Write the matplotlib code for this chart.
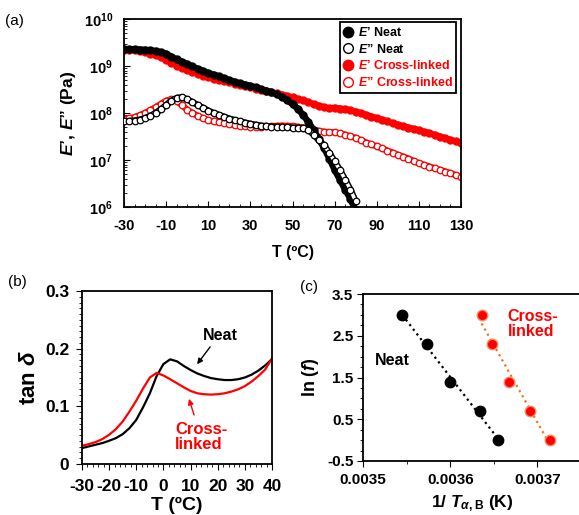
import numpy as np
import matplotlib
matplotlib.use("Agg")
import matplotlib.pyplot as plt
from matplotlib.ticker import MultipleLocator, LogLocator, NullFormatter
from matplotlib.lines import Line2D

plt.rcParams['font.family'] = ['Liberation Sans', 'DejaVu Sans']
plt.rcParams['font.weight'] = 'bold'
plt.rcParams['axes.unicode_minus'] = False
plt.rcParams['mathtext.fontset'] = 'custom'
plt.rcParams['mathtext.rm'] = 'Liberation Sans:bold'
plt.rcParams['mathtext.bf'] = 'Liberation Sans:bold'
plt.rcParams['mathtext.it'] = 'Liberation Sans:italic:bold'

RED = '#ff0000'

# (a) DMA temperature sweep, log10 of modulus (Pa)
T_neat = np.arange(-30, 80.1, 2.5)
logEp_neat = [9.36, 9.36, 9.355, 9.35, 9.345, 9.335, 9.32, 9.295, 9.26, 9.20,
              9.14, 9.09, 9.04, 8.99, 8.94, 8.895, 8.85, 8.815, 8.78, 8.74,
              8.70, 8.665, 8.63, 8.605, 8.58, 8.545, 8.51, 8.475, 8.44, 8.395,
              8.34, 8.27, 8.19, 8.09, 7.96, 7.81, 7.64, 7.45, 7.25, 7.03,
              6.79, 6.58, 6.37, 6.17, 5.93]
logEpp_neat = [7.82, 7.83, 7.84, 7.86, 7.89, 7.94, 8.00, 8.08, 8.17, 8.26,
               8.32, 8.335, 8.29, 8.23, 8.17, 8.11, 8.05, 8.00, 7.96, 7.92,
               7.88, 7.85, 7.82, 7.795, 7.77, 7.75, 7.73, 7.72, 7.71, 7.705,
               7.70, 7.695, 7.69, 7.685, 7.68, 7.64, 7.54, 7.42, 7.31, 7.15,
               6.97, 6.79, 6.58, 6.37, 6.12]

T_cl = np.arange(-30, 130.1, 2.5)
logEp_cl = [9.34, 9.335, 9.33, 9.31, 9.29, 9.265, 9.24, 9.19, 9.13, 9.07,
            9.01, 8.965, 8.92, 8.875, 8.83, 8.795, 8.76, 8.73, 8.70, 8.675,
            8.65, 8.625, 8.60, 8.575, 8.55, 8.52, 8.49, 8.465, 8.44, 8.415,
            8.39, 8.36, 8.33, 8.30, 8.27, 8.23, 8.19, 8.155, 8.12, 8.10,
            8.11, 8.095, 8.08, 8.055, 8.03, 7.995, 7.96, 7.925, 7.89, 7.855,
            7.82, 7.785, 7.75, 7.72, 7.69, 7.66, 7.63, 7.60, 7.57, 7.535,
            7.50, 7.465, 7.43, 7.395, 7.36]
logEpp_cl = [7.87, 7.89, 7.91, 7.95, 8.00, 8.06, 8.12, 8.19, 8.26, 8.29,
             8.25, 8.17, 8.07, 8.00, 7.94, 7.89, 7.85, 7.82, 7.80, 7.78,
             7.76, 7.745, 7.73, 7.72, 7.71, 7.71, 7.71, 7.715, 7.72, 7.725,
             7.73, 7.725, 7.72, 7.705, 7.69, 7.665, 7.64, 7.62, 7.60, 7.59,
             7.59, 7.565, 7.54, 7.505, 7.47, 7.42, 7.37, 7.33, 7.29, 7.245,
             7.20, 7.155, 7.11, 7.07, 7.03, 6.98, 6.93, 6.895, 6.86, 6.825,
             6.79, 6.755, 6.72, 6.68, 6.64]

# (b) tan delta
T_tan = np.arange(-30, 40.1, 2.5)
tan_neat = [0.0276, 0.0305, 0.0334, 0.0363, 0.0403, 0.0449, 0.0518, 0.0622,
            0.0766, 0.0984, 0.1226, 0.1526, 0.1733, 0.1815, 0.178, 0.170,
            0.163, 0.157, 0.1526, 0.149, 0.147, 0.1456, 0.1456, 0.147,
            0.150, 0.155, 0.162, 0.171, 0.182]
tan_cl = [0.0317, 0.0345, 0.038, 0.0432, 0.0507, 0.0605, 0.0737, 0.091,
          0.110, 0.131, 0.150, 0.158, 0.1535, 0.147, 0.140, 0.133,
          0.1267, 0.1226, 0.121, 0.1203, 0.121, 0.1226, 0.1255, 0.1295,
          0.135, 0.143, 0.1526, 0.164, 0.183]

# (c) Arrhenius plot
invT_neat = [0.003545, 0.003573, 0.003600, 0.003634, 0.003655]
lnf_neat = [3.00, 2.30, 1.39, 0.69, 0.00]
invT_cl = [0.003636, 0.003648, 0.003667, 0.003692, 0.003715]
lnf_cl = [3.00, 2.30, 1.39, 0.69, 0.00]

fig = plt.figure(figsize=(5.79, 5.15), dpi=100)
W, H = 579, 515
axa = fig.add_axes([124 / W, 1 - 207 / H, 337 / W, 188 / H])
axb = fig.add_axes([82 / W, 1 - 464 / H, 190 / W, 173 / H])
axc = fig.add_axes([363 / W, 1 - 461 / H, 218 / W, 167 / H])

for ax in (axa, axb, axc):
    for s in ax.spines.values():
        s.set_linewidth(1.3)


def filled(ax, x, logy, c, z):
    y = 10 ** np.array(logy)
    ax.plot(x, y, '-', lw=4.6, color=c, solid_capstyle='round', zorder=z)
    ax.plot(x, y, 'o', ms=5.0, color=c, zorder=z)


def hollow(ax, x, logy, c, z):
    y = 10 ** np.array(logy)
    ax.plot(x, y, '-', lw=4.6, color=c, solid_capstyle='round', zorder=z)
    ax.plot(x, y, '-', lw=2.5, color='white', solid_capstyle='round', zorder=z)
    ax.plot(x, y, 'o', ms=4.7, mfc='white', mec=c, mew=0.9, zorder=z)


# ---- (a)
filled(axa, T_cl, logEp_cl, RED, 2)
hollow(axa, T_cl, logEpp_cl, RED, 2)
filled(axa, T_neat, logEp_neat, 'black', 3)
hollow(axa, T_neat, logEpp_neat, 'black', 4)
axa.set_yscale('log')
axa.set_xlim(-30, 130)
axa.set_ylim(1e6, 1e10)
axa.set_xticks(np.arange(-30, 131, 20))
axa.xaxis.set_minor_locator(MultipleLocator(5))
axa.set_yticks([1e6, 1e7, 1e8, 1e9, 1e10])
axa.set_yticklabels([r'$\mathbf{10^{%d}}$' % k for k in range(6, 11)])
axa.yaxis.set_minor_locator(LogLocator(subs=np.arange(2, 10)))
axa.yaxis.set_minor_formatter(NullFormatter())
axa.tick_params(which='both', direction='in', labelsize=10.5)
axa.tick_params(axis='x', pad=9)
axa.tick_params(axis='y', pad=8)
axa.tick_params(which='major', length=4)
axa.tick_params(which='minor', length=2.5)
axa.set_xlabel('T (ºC)', fontsize=11.5, fontweight='bold', labelpad=8)
axa.set_ylabel('$E$’, $E$” (Pa)', fontsize=12.5, fontweight='bold', labelpad=4)

handles = [
    Line2D([], [], ls='none', marker='o', ms=7.5, color='black'),
    Line2D([], [], ls='none', marker='o', ms=7, mfc='white', mec='black', mew=1),
    Line2D([], [], ls='none', marker='o', ms=7.5, color=RED),
    Line2D([], [], ls='none', marker='o', ms=7, mfc='white', mec=RED, mew=1),
]
labels = ['$E$’ Neat', '$E$” Neat', '$E$’ Cross-linked', '$E$” Cross-linked']
leg = axa.legend(handles, labels, loc='upper right', bbox_to_anchor=(0.99, 0.99),
                 fontsize=9, frameon=True, fancybox=False, framealpha=1,
                 edgecolor='black', handlelength=0.6, handletextpad=0.5,
                 borderpad=0.3, labelspacing=0.3, borderaxespad=0.1)
leg.get_frame().set_linewidth(1.3)
for txt, c in zip(leg.get_texts(), ['black', 'black', RED, RED]):
    txt.set_color(c)
    txt.set_fontweight('bold')

fig.text(5 / W, 1 - 21 / H, '(a)', fontsize=11, fontweight='normal', va='center')

# ---- (b)
axb.plot(T_tan, tan_neat, color='black', lw=1.6)
axb.plot(T_tan, tan_cl, color=RED, lw=1.6)
axb.set_xlim(-30, 40)
axb.set_ylim(0, 0.3)
axb.set_xticks(np.arange(-30, 41, 10))
axb.xaxis.set_minor_locator(MultipleLocator(2))
axb.set_yticks([0, 0.1, 0.2, 0.3])
axb.set_yticklabels(['0', '0.1', '0.2', '0.3'])
axb.yaxis.set_minor_locator(MultipleLocator(0.01))
axb.tick_params(which='both', direction='out', labelsize=12.5)
axb.tick_params(axis='x', pad=7)
axb.tick_params(axis='y', pad=5)
axb.tick_params(which='major', length=4)
axb.tick_params(which='minor', length=2.5)
axb.set_xlabel('T (ºC)', fontsize=14, fontweight='bold', labelpad=2)
axb.set_ylabel(r'tan $\delta$', fontsize=16, fontweight='bold', labelpad=4)
axb.text(20.8, 0.222, 'Neat', fontsize=11.5, fontweight='bold', ha='center', va='center')
axb.annotate('', xy=(12.4, 0.173), xytext=(17.2, 0.203),
             arrowprops=dict(arrowstyle='-|>', color='black', lw=1, mutation_scale=8,
                             shrinkA=0, shrinkB=0))
axb.text(4.3, 0.047, 'Cross-\nlinked', fontsize=12, fontweight='bold', color=RED,
         ha='left', va='center', linespacing=1.0)
axb.annotate('', xy=(9.4, 0.113), xytext=(11.3, 0.085),
             arrowprops=dict(arrowstyle='-|>', color=RED, lw=1, mutation_scale=8,
                             shrinkA=0, shrinkB=0))
fig.text(8 / W, 1 - 282 / H, '(b)', fontsize=11, fontweight='normal', va='center')

# ---- (c)
pn = np.polyfit(invT_neat, lnf_neat, 1)
pc = np.polyfit(invT_cl, lnf_cl, 1)
xn = np.array([min(invT_neat), max(invT_neat)])
xc = np.array([min(invT_cl), max(invT_cl)])
axc.plot(xn, np.polyval(pn, xn), ls=':', color='black', lw=1.6, zorder=1)
axc.plot(xc, np.polyval(pc, xc), ls=':', color='#e8782a', lw=1.6, zorder=1)
axc.plot(invT_neat, lnf_neat, 'o', ms=7.5, color='black', zorder=3)
axc.plot(invT_cl, lnf_cl, 'o', ms=7.5, mfc=RED, mec='#f5865a', mew=1, zorder=3)
axc.set_xlim(0.0035, 0.00375)
axc.set_ylim(-0.5, 3.5)
axc.set_xticks([0.0035, 0.0036, 0.0037])
axc.set_xticklabels(['0.0035', '0.0036', '0.0037'])
axc.xaxis.set_minor_locator(MultipleLocator(0.00005))
axc.set_yticks([-0.5, 0.5, 1.5, 2.5, 3.5])
axc.set_yticklabels(['-0.5', '0.5', '1.5', '2.5', '3.5'])
axc.yaxis.set_minor_locator(MultipleLocator(0.25))
axc.tick_params(which='both', direction='out', labelsize=11)
axc.tick_params(axis='x', pad=5)
axc.tick_params(axis='y', pad=3)
axc.tick_params(which='major', length=4)
axc.tick_params(which='minor', length=2.5)
axc.set_xlabel(r'1/ $T_{\alpha\mathrm{,B}}$ (K)', fontsize=12.5, fontweight='bold', labelpad=4)
axc.set_ylabel(r'ln ($f$)', fontsize=13, fontweight='bold', labelpad=4)
axc.text(0.003534, 1.9, 'Neat', fontsize=11.5, fontweight='bold', ha='center', va='center')
axc.text(0.003666, 3.15, 'Cross-\nlinked', fontsize=11.5, fontweight='bold', color=RED,
         ha='left', va='top', linespacing=1.05)
fig.text(300 / W, 1 - 287 / H, '(c)', fontsize=11, fontweight='normal', va='center')

fig.savefig('out.png', dpi=100)
